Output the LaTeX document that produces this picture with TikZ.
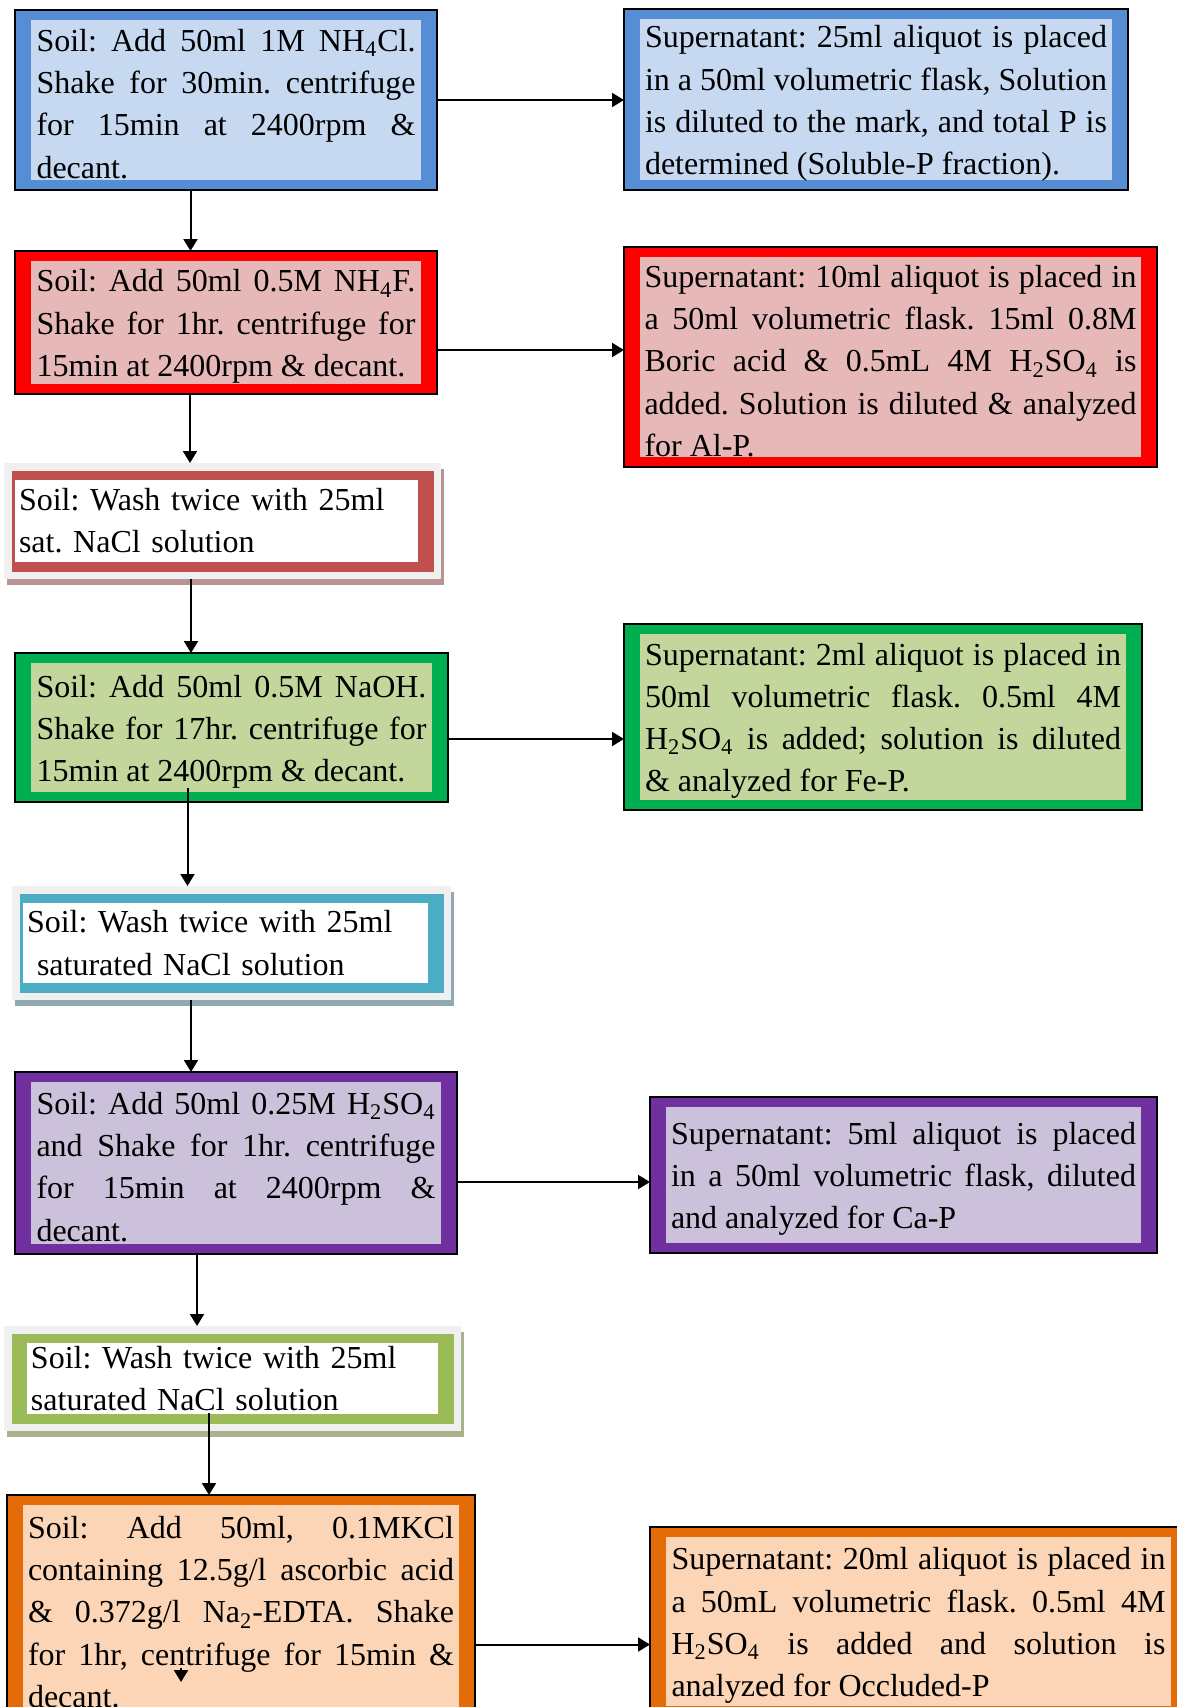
\documentclass[tikz,border=0pt]{standalone}
\usepackage{fontspec}
\setmainfont{Liberation Serif}
\usetikzlibrary{arrows.meta, shadows}

\definecolor{blueedge}{HTML}{558ED5}
\definecolor{bluefill}{HTML}{C6D9F1}
\definecolor{rededge}{HTML}{FF0000}
\definecolor{redfill}{HTML}{E6B9B8}
\definecolor{greenedge}{HTML}{00B050}
\definecolor{greenfill}{HTML}{C3D69B}
\definecolor{purpleedge}{HTML}{7030A0}
\definecolor{purplefill}{HTML}{CCC1DA}
\definecolor{orangeedge}{HTML}{E36C09}
\definecolor{orangefill}{HTML}{FBD5B5}
\definecolor{washgray}{HTML}{F0F0F0}
\definecolor{washred}{HTML}{C0504D}
\definecolor{washblue}{HTML}{4BACC6}
\definecolor{washgreen}{HTML}{9BBB59}
\definecolor{shadowred}{HTML}{B89494}
\definecolor{shadowblue}{HTML}{8FA9B1}
\definecolor{shadowgreen}{HTML}{A9B18F}

\tikzstyle{arrow} = [line width=1pt, ->, >={Triangle[length=6pt, width=7pt]}]
\tikzset{
  stagebox/.style 2 args={rectangle, draw=black, line width=0.6pt, fill=#1, inner sep=0pt, outer sep=0pt, align=justify,
    execute at end node={\par\vspace*{-4pt}},
    path picture={\fill[#2] ([shift={(8pt,5pt)}]path picture bounding box.south west) rectangle ([shift={(-8pt,-5pt)}]path picture bounding box.north east);}},
  washbox/.style n args={3}{rectangle, fill=washgray, inner sep=0pt, outer sep=0pt, align=left,
    drop shadow={shadow xshift=1.5pt, shadow yshift=-3pt, fill=#2, opacity=1},
    path picture={\fill[#1] ([shift={(3.75pt,3.75pt)}]path picture bounding box.south west) rectangle ([shift={(-3.75pt,-3.75pt)}]path picture bounding box.north east);
      \fill[white] ([shift={(#3,8.5pt)}]path picture bounding box.south west) rectangle ([shift={(-11.5pt,-8.5pt)}]path picture bounding box.north east);}}
}
\hyphenpenalty=10000
\exhyphenpenalty=10000
\tolerance=10000

\begin{document}
\begin{tikzpicture}[x=0.5pt, y=-0.5pt, font=\fontsize{16}{21.1}\selectfont\frenchspacing]

\useasboundingbox (0,0) rectangle (1177,1707);
\clip (0,0) rectangle (1177,1707);
\fill[white] (0,0) rectangle (1177,1707);

% Nodes
\node (nhcl) [stagebox={blueedge}{bluefill}, minimum width=211pt, minimum height=90pt, text width=189.5pt] at (226,100) {Soil: Add 50ml 1M NH\textsubscript{4}Cl.\linebreak Shake for 30min. centrifuge\linebreak for 15min at 2400rpm \&\linebreak decant.};
\node (solp) [stagebox={blueedge}{bluefill}, minimum width=252pt, minimum height=90.5pt, text width=231pt] at (876,99.5) {Supernatant: 25ml aliquot is placed\linebreak in a 50ml volumetric flask, Solution\linebreak is diluted to the mark, and total P is\linebreak determined (Soluble-P fraction).};

\node (nhf) [stagebox={rededge}{redfill}, minimum width=211pt, minimum height=71.5pt, text width=189.5pt] at (226,322.5) {Soil: Add 50ml 0.5M NH\textsubscript{4}F.\linebreak Shake for 1hr. centrifuge for\linebreak 15min at 2400rpm \& decant.};
\node (alp) [stagebox={rededge}{redfill}, minimum width=266.5pt, minimum height=110pt, text width=246pt] at (890.5,357) {Supernatant: 10ml aliquot is placed in\linebreak a 50ml volumetric flask. 15ml 0.8M\linebreak Boric acid \& 0.5mL 4M H\textsubscript{2}SO\textsubscript{4} is\linebreak added. Solution is diluted \& analyzed\linebreak for Al-P.};

\node (washa) [washbox={washred}{shadowred}{5.5pt}, minimum width=218.5pt, minimum height=58pt, text width=203.5pt] at (222.5,521) {Soil: Wash twice with 25ml\\sat. NaCl solution};

\node (naoh) [stagebox={greenedge}{greenfill}, minimum width=216.5pt, minimum height=74.5pt, text width=195pt] at (231.5,727.5) {Soil: Add 50ml 0.5M NaOH.\linebreak Shake for 17hr. centrifuge for\linebreak 15min at 2400rpm \& decant.};
\node (fep) [stagebox={greenedge}{greenfill}, minimum width=259pt, minimum height=93pt, text width=238pt] at (883,717) {Supernatant: 2ml aliquot is placed in\linebreak 50ml volumetric flask. 0.5ml 4M\linebreak H\textsubscript{2}SO\textsubscript{4} is added; solution is diluted\linebreak \& analyzed for Fe-P.};

\node (washb) [washbox={washblue}{shadowblue}{5.5pt}, minimum width=219.5pt, minimum height=57pt, text width=204.5pt] at (231.5,943) {Soil: Wash twice with 25ml\\\hspace*{5pt}saturated NaCl solution};

\node (acid) [stagebox={purpleedge}{purplefill}, minimum width=221pt, minimum height=91pt, text width=199.5pt] at (236,1163) {Soil: Add 50ml 0.25M H\textsubscript{2}SO\textsubscript{4}\linebreak and Shake for 1hr. centrifuge\linebreak for 15min at 2400rpm \&\linebreak decant.};
\node (cap) [stagebox={purpleedge}{purplefill}, minimum width=253.5pt, minimum height=78pt, text width=232.5pt] at (903.5,1175) {Supernatant: 5ml aliquot is placed\linebreak in a 50ml volumetric flask, diluted\linebreak and analyzed for Ca-P};

\node (washc) [washbox={washgreen}{shadowgreen}{11.5pt}, minimum width=228.5pt, minimum height=52.5pt, text width=201.5pt] at (232.5,1378.5) {Soil: Wash twice with 25ml\\saturated NaCl solution};

\node (kcl) [stagebox={orangeedge}{orangefill}, minimum width=234pt, minimum height=113pt, text width=213pt] at (241,1608) {Soil: Add 50ml, 0.1MKCl\linebreak containing 12.5g/l ascorbic acid\linebreak \& 0.372g/l Na\textsubscript{2}-EDTA. Shake\linebreak for 1hr, centrifuge for 15min \&\linebreak decant.};
\node (occp) [stagebox={orangeedge}{orangefill}, minimum width=268.5pt, minimum height=94.5pt, text width=247pt] at (918.5,1621.5) {Supernatant: 20ml aliquot is placed in\linebreak a 50mL volumetric flask. 0.5ml 4M\linebreak H\textsubscript{2}SO\textsubscript{4} is added and solution is\linebreak analyzed for Occluded-P};

\coordinate (stubtop) at (181,1668);
\coordinate (stubtip) at (181,1682);

% Arrows
\draw [arrow] (nhcl.east) -- (nhcl.east -| solp.west);
\draw [arrow] ([xshift=-17.75pt]nhcl.south) -- ([xshift=-17.75pt]nhcl.south |- nhf.north);
\draw [arrow] ([yshift=-13.75pt]nhf.east) -- ([yshift=-13.75pt]nhf.east -| alp.west);
\draw [arrow] ([xshift=-18pt]nhf.south) -- ([xshift=-18pt]nhf.south |- washa.north);
\draw [arrow] ([xshift=-15.75pt]washa.south) -- ([xshift=-15.75pt]washa.south |- naoh.north);
\draw [arrow] ([yshift=-5.75pt]naoh.east) -- ([yshift=-5.75pt]naoh.east -| fep.west);
\draw [arrow] ([xshift=-22pt, yshift=7pt]naoh.south) -- ([xshift=-22pt]naoh.south |- washb.north);
\draw [arrow] ([xshift=-20.25pt]washb.south) -- ([xshift=-20.25pt]washb.south |- acid.north);
\draw [arrow] ([yshift=-9.5pt]acid.east) -- ([yshift=-9.5pt]acid.east -| cap.west);
\draw [arrow] ([xshift=-19.5pt]acid.south) -- ([xshift=-19.5pt]acid.south |- washc.north);
\draw [arrow] ([xshift=-11.75pt, yshift=9pt]washc.south) -- ([xshift=-11.75pt]washc.south |- kcl.north);
\draw [arrow] ([yshift=-18.25pt]kcl.east) -- ([yshift=-18.25pt]kcl.east -| occp.west);
\draw [arrow] (stubtop) -- (stubtip);

\end{tikzpicture}
\end{document}
